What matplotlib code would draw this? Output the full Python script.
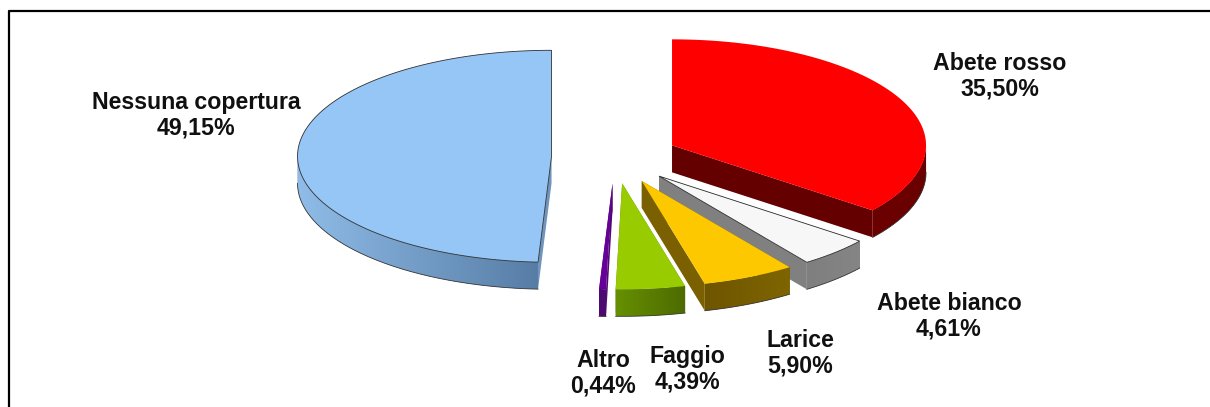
import numpy as np
import matplotlib
matplotlib.use('Agg')
import matplotlib.pyplot as plt
from matplotlib.colors import LinearSegmentedColormap
from matplotlib.patches import Polygon

plt.rcParams['font.family'] = ['Liberation Sans', 'DejaVu Sans']

names = ['Abete rosso', 'Abete bianco', 'Larice', 'Faggio', 'Altro', 'Nessuna copertura']
values = [35.50, 4.61, 5.90, 4.39, 0.44, 49.15]
top_colors = ['#ff0000', '#f7f7f7', '#fdc800', '#99cc00', '#660099', '#95c6f6']
# wall colours: light end and dark end of the gradient along the arc
wall_left = ['#6a0000', '#7f7f7f', '#6e5500', '#669000', '#4d0a70', '#8fbce8']
wall_right = ['#6a0000', '#858585', '#7f6500', '#4d6a00', '#4d0a70', '#577da5']
cut_colors = ['#640000', '#808080', '#7a6000', '#5a8000', '#4d0a70', '#6f95be']
label_x = [1000, 949, 800, 687, 603, 196]
label_y = [76, 316, 353, 369, 373, 115]

CX, CY = 615, 157
A, B = 254, 106
EXPLODE = 0.25
DEPTH = 27


def ellipse(cx, cy, theta):
    return cx + A * np.sin(theta), cy - B * np.cos(theta)


def draw_slice(ax, i, start, end):
    mid = (start + end) / 2
    cx = CX + EXPLODE * A * np.sin(mid)
    cy = CY - EXPLODE * B * np.cos(mid)
    t = np.linspace(start, end, max(int(np.degrees(end - start)), 6))
    x, y = ellipse(cx, cy, t)

    # cut faces
    for xe, ye in [(x[0], y[0]), (x[-1], y[-1])]:
        ax.add_patch(Polygon([(cx, cy), (xe, ye), (xe, ye + DEPTH), (cx, cy + DEPTH)],
                             fc=cut_colors[i], ec='none', zorder=i))

    # outer wall, only the part turned to the viewer
    lo, hi = max(start, np.pi / 2), min(end, 3 * np.pi / 2)
    if hi > lo:
        tw = np.linspace(lo, hi, max(int(np.degrees(hi - lo)) * 2, 8))
        xw, yw = ellipse(cx, cy, tw)
        outline = np.column_stack([np.r_[xw, xw[::-1]], np.r_[yw, yw[::-1] + DEPTH]])
        poly = Polygon(outline, fc=cut_colors[i], ec='none', zorder=i + 0.1)
        ax.add_patch(poly)
        cmap = LinearSegmentedColormap.from_list('wall', [wall_left[i], wall_right[i]])
        im = ax.imshow(np.linspace(0, 1, 256)[None, :], cmap=cmap, aspect='auto',
                       extent=(xw.min(), xw.max(), yw.max() + DEPTH, yw.min()),
                       interpolation='bilinear', zorder=i + 0.15)
        im.set_clip_path(poly)
        ax.plot(xw, yw + DEPTH, color='#3a3a3a', lw=0.6, zorder=i + 0.2)

    pts = np.column_stack([np.r_[cx, x], np.r_[cy, y]])
    ax.add_patch(Polygon(pts, fc=top_colors[i], ec='#303030' if i in (1, 5) else 'none',
                         lw=0.6, zorder=i + 0.3))


fig = plt.figure(figsize=(12.10, 4.07), dpi=100)
ax = fig.add_axes([0, 0, 1, 1])
ax.axis('off')

# frame, only top and left are inside the crop
ax.plot([8.5, 8.5, 1210], [407, 11, 11], color='black', lw=1.6)

edges = np.r_[0, np.cumsum(values)] / sum(values) * 2 * np.pi
for i in range(len(values)):
    draw_slice(ax, i, edges[i], edges[i + 1])

for name, v, lx, ly in zip(names, values, label_x, label_y):
    pct = f'{v:.2f}'.replace('.', ',') + '%'
    ax.text(lx, ly, f'{name}\n{pct}', ha='center', va='center', fontsize=16.7,
            fontweight='bold', color='#101010', linespacing=1.15, zorder=20)

ax.set_xlim(0, 1210)
ax.set_ylim(407, 0)

fig.savefig('out.png', dpi=100)
